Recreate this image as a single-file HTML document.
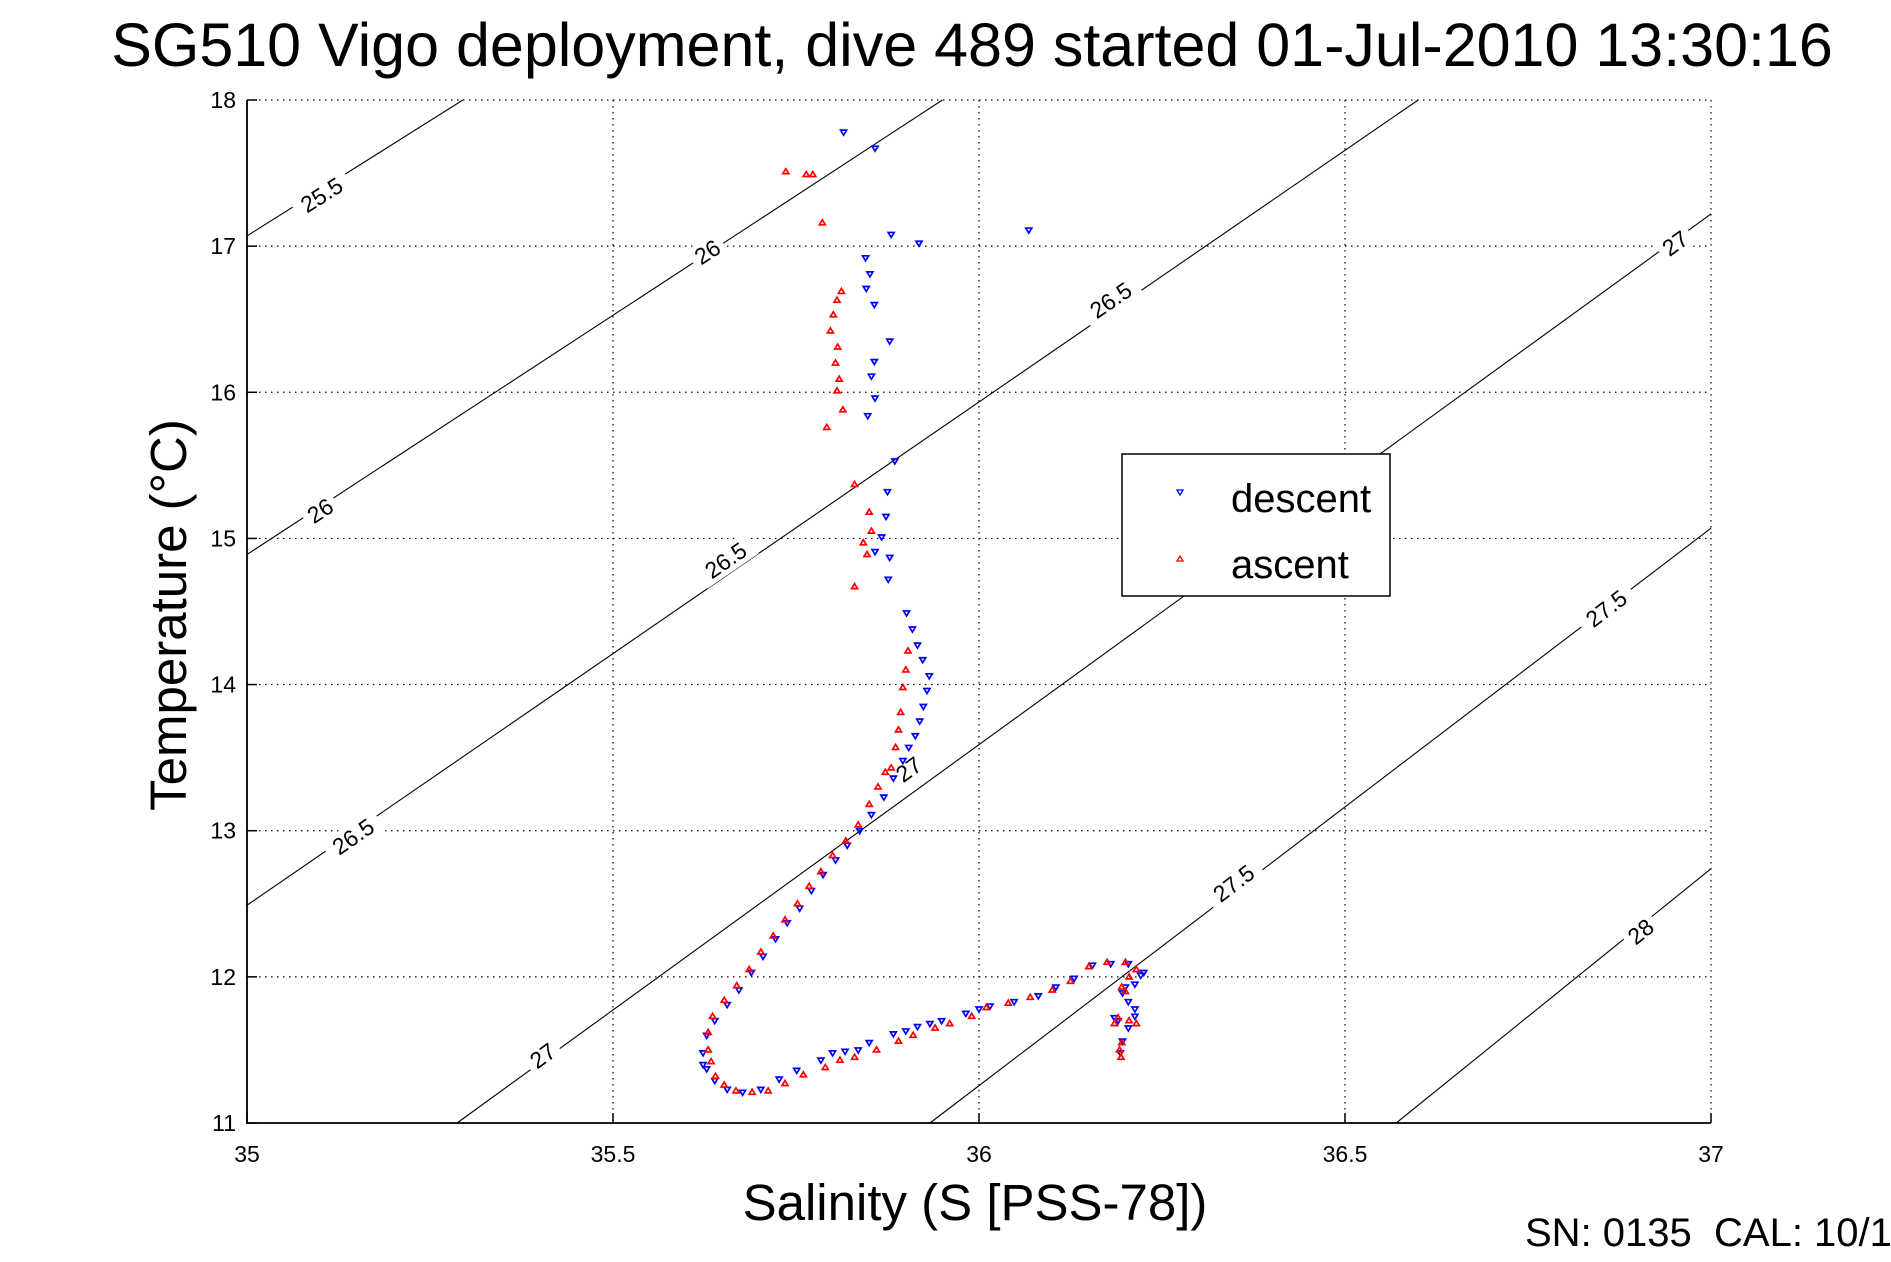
<!DOCTYPE html>
<html><head><meta charset="utf-8"><style>
html,body{margin:0;padding:0;background:#fff;}
svg{display:block;font-family:"Liberation Sans",sans-serif;}
</style></head><body>
<svg id="chart" width="1891" height="1262" viewBox="0 0 1891 1262">
<text x="972" y="66" font-size="61" text-anchor="middle">SG510 Vigo deployment, dive 489 started 01-Jul-2010 13:30:16</text>
<text x="975" y="1220" font-size="51" text-anchor="middle">Salinity (S [PSS-78])</text>
<text transform="translate(186,615) rotate(-90)" font-size="51" text-anchor="middle">Temperature (°C)</text>
<text x="1525" y="1246" font-size="40" style="white-space:pre">SN: 0135  CAL: 10/1</text>
<g id="grid"></g><g id="contours"></g><g id="marks"></g><g id="axes"></g>
<g>
<rect x="1122" y="454" width="268" height="142" fill="#fff" stroke="#000" stroke-width="1.5"/>
<path d="M1177,490 L1183,490 L1180,495 Z" fill="none" stroke="#00f" stroke-width="1.3"/>
<path d="M1177,561 L1183,561 L1180,556 Z" fill="none" stroke="#f00" stroke-width="1.3"/>
<text x="1231" y="512" font-size="40">descent</text>
<text x="1231" y="578" font-size="40">ascent</text>
</g>
</svg>
<script>
const xTicks=[35,35.5,36,36.5,37];
const xTickLabels=["35","35.5","36","36.5","37"];
const yTicks=[11,12,13,14,15,16,17,18];
const yTickLabels=["11","12","13","14","15","16","17","18"];
const contourLevels=["25.5","26","26.5","27","27.5","28"];
const contourEnds=[[[35,17.07],[35.295,18]],[[35,14.89],[35.95,18]],[[35,12.49],[36.6,18]],[[35.287,11],[37,17.22]],[[35.933,11],[37,15.07]],[[36.57,11],[37,12.74]]];
const contourLabelPos=[[[35.102,17.35]],[[35.629,16.96],[35.100,15.19]],[[36.180,16.63],[35.654,14.85],[35.145,12.96]],[[36.951,17.02],[35.904,13.42],[35.404,11.46]],[[36.857,14.52],[36.348,12.64]],[[36.904,12.31]]];
const descent=[[35.815,17.78],[35.858,17.67],[35.880,17.08],[35.918,17.02],[36.068,17.11],[35.845,16.92],[35.851,16.81],[35.846,16.71],[35.857,16.60],[35.878,16.35],[35.857,16.21],[35.853,16.11],[35.858,15.96],[35.848,15.84],[35.885,15.53],[35.875,15.32],[35.873,15.15],[35.867,15.01],[35.858,14.91],[35.878,14.87],[35.876,14.72],[35.901,14.49],[35.909,14.38],[35.916,14.27],[35.923,14.17],[35.932,14.06],[35.929,13.96],[35.924,13.85],[35.919,13.75],[35.913,13.65],[35.904,13.57],
[35.896,13.48],[35.883,13.36],[35.870,13.23],[35.853,13.11],[35.837,13.00],[35.820,12.90],[35.804,12.80],[35.787,12.70],[35.771,12.59],[35.755,12.47],[35.738,12.37],[35.722,12.26],[35.705,12.14],[35.689,12.03],[35.672,11.91],[35.656,11.81],[35.639,11.70],[35.628,11.60],[35.623,11.48],[35.623,11.40],[35.628,11.37],[35.639,11.29],[35.656,11.23],[35.677,11.21],[35.702,11.23],[35.727,11.30],[35.751,11.36],[35.784,11.43],[35.800,11.48],[35.817,11.49],[35.835,11.50],[35.850,11.55],[35.883,11.61],[35.900,11.63],[35.916,11.66],[35.933,11.68],[35.949,11.70],[35.982,11.75],[36.000,11.78],[36.015,11.80],[36.048,11.83],[36.081,11.87],[36.105,11.93],[36.130,11.99],[36.155,12.08],[36.180,12.09],[36.204,12.09],[36.221,12.01],[36.225,12.03],[36.213,11.95],[36.196,11.89],[36.200,11.93],[36.204,11.83],[36.213,11.78],[36.213,11.73],[36.204,11.65],[36.196,11.56],[36.193,11.48],[36.190,11.70],[36.185,11.72]];
const ascent=[[35.736,17.51],[35.764,17.49],[35.773,17.49],[35.786,17.16],[35.812,16.69],[35.806,16.63],[35.801,16.53],[35.797,16.42],[35.807,16.31],[35.804,16.20],[35.809,16.09],[35.806,16.01],[35.814,15.88],[35.792,15.76],[35.830,15.37],[35.850,15.18],[35.853,15.05],[35.842,14.97],[35.847,14.89],[35.830,14.67],[35.903,14.23],[35.900,14.10],[35.896,13.98],[35.893,13.81],[35.890,13.69],[35.886,13.57],[35.880,13.43],
[35.872,13.40],[35.862,13.30],[35.850,13.18],[35.835,13.04],[35.818,12.93],[35.800,12.83],[35.784,12.72],[35.768,12.62],[35.752,12.50],[35.735,12.39],[35.719,12.28],[35.702,12.17],[35.686,12.05],[35.669,11.94],[35.652,11.84],[35.636,11.73],[35.630,11.62],[35.630,11.50],[35.634,11.42],[35.640,11.32],[35.652,11.26],[35.668,11.22],[35.690,11.21],[35.712,11.22],[35.735,11.27],[35.760,11.33],[35.790,11.38],[35.810,11.43],[35.830,11.45],[35.860,11.50],[35.890,11.56],[35.910,11.60],[35.940,11.65],[35.960,11.68],[35.990,11.73],[36.010,11.79],[36.040,11.82],[36.070,11.86],[36.100,11.91],[36.125,11.97],[36.150,12.07],[36.175,12.10],[36.200,12.10],[36.215,12.05],[36.205,12.00],[36.195,11.93],[36.200,11.90],[36.190,11.72],[36.185,11.68],[36.205,11.70],[36.215,11.68],[36.195,11.55],[36.192,11.50],[36.194,11.45]];
const L=247,R=1711,T=100,B=1123;
const sx=s=>L+(s-35)/2*(R-L);
const sy=t=>B-(t-11)/7*(B-T);
const NS="http://www.w3.org/2000/svg";
function mk(tag,attrs,parent){const e=document.createElementNS(NS,tag);for(const k in attrs)e.setAttribute(k,attrs[k]);parent.appendChild(e);return e;}
const grid=document.getElementById('grid'),axes=document.getElementById('axes'),cont=document.getElementById('contours'),marks=document.getElementById('marks');
xTicks.forEach((v,i)=>{
 const g=mk('line',{x1:sx(v),x2:sx(v),y1:T,y2:B,stroke:'#000','stroke-width':1.2,'stroke-dasharray':'1.5 4.5'},grid);
 
 
 const t=mk('text',{x:sx(v),y:1162,'font-size':23,'text-anchor':'middle'},axes);t.textContent=xTickLabels[i];
 
 
 mk('line',{x1:sx(v),x2:sx(v),y1:B,y2:B-10,stroke:'#000','stroke-width':1.5},axes);
});
yTicks.forEach((v,i)=>{
 const g=mk('line',{x1:L,x2:R,y1:sy(v),y2:sy(v),stroke:'#000','stroke-width':1.2,'stroke-dasharray':'1.5 4.5'},grid);
 
 
 const t=mk('text',{x:236,y:sy(v)+8,'font-size':23,'text-anchor':'end'},axes);t.textContent=yTickLabels[i];
 
 
 mk('line',{x1:L,x2:L+10,y1:sy(v),y2:sy(v),stroke:'#000','stroke-width':1.5},axes);
});
mk('path',{d:`M${L},${T} L${L},${B} L${R},${B}`,fill:'none',stroke:'#000','stroke-width':1.8},axes);
contourEnds.forEach((e,i)=>{
 const x1=sx(e[0][0]),y1=sy(e[0][1]),x2=sx(e[1][0]),y2=sy(e[1][1]);
 const ln=mk('line',{x1,y1,x2,y2,stroke:'#000','stroke-width':1.1},cont);
 
 
 const ang=Math.atan2(y2-y1,x2-x1)*180/Math.PI;
 contourLabelPos[i].forEach(p=>{
  const cx=sx(p[0]),cy=sy(p[1]);
  const w=contourLevels[i].length*13+10;
  mk('rect',{x:-w/2,y:-13,width:w,height:26,fill:'#fff',transform:`translate(${cx},${cy}) rotate(${ang})`},cont);
  const t=mk('text',{x:0,y:8,'font-size':23,'text-anchor':'middle',transform:`translate(${cx},${cy}) rotate(${ang})`},cont);
  t.textContent=contourLevels[i];
  
  
 });
});
descent.forEach(p=>{
 const x=sx(p[0]),y=sy(p[1]);
 const m=mk('path',{d:`M${x-3},${y-2} L${x+3},${y-2} L${x},${y+3} Z`,fill:'none',stroke:'#00f','stroke-width':1.7},marks);
 
 
});
ascent.forEach(p=>{
 const x=sx(p[0]),y=sy(p[1]);
 const m=mk('path',{d:`M${x-3},${y+2} L${x+3},${y+2} L${x},${y-3} Z`,fill:'none',stroke:'#f00','stroke-width':1.7},marks);
 
 
});
</script>
</body></html>
